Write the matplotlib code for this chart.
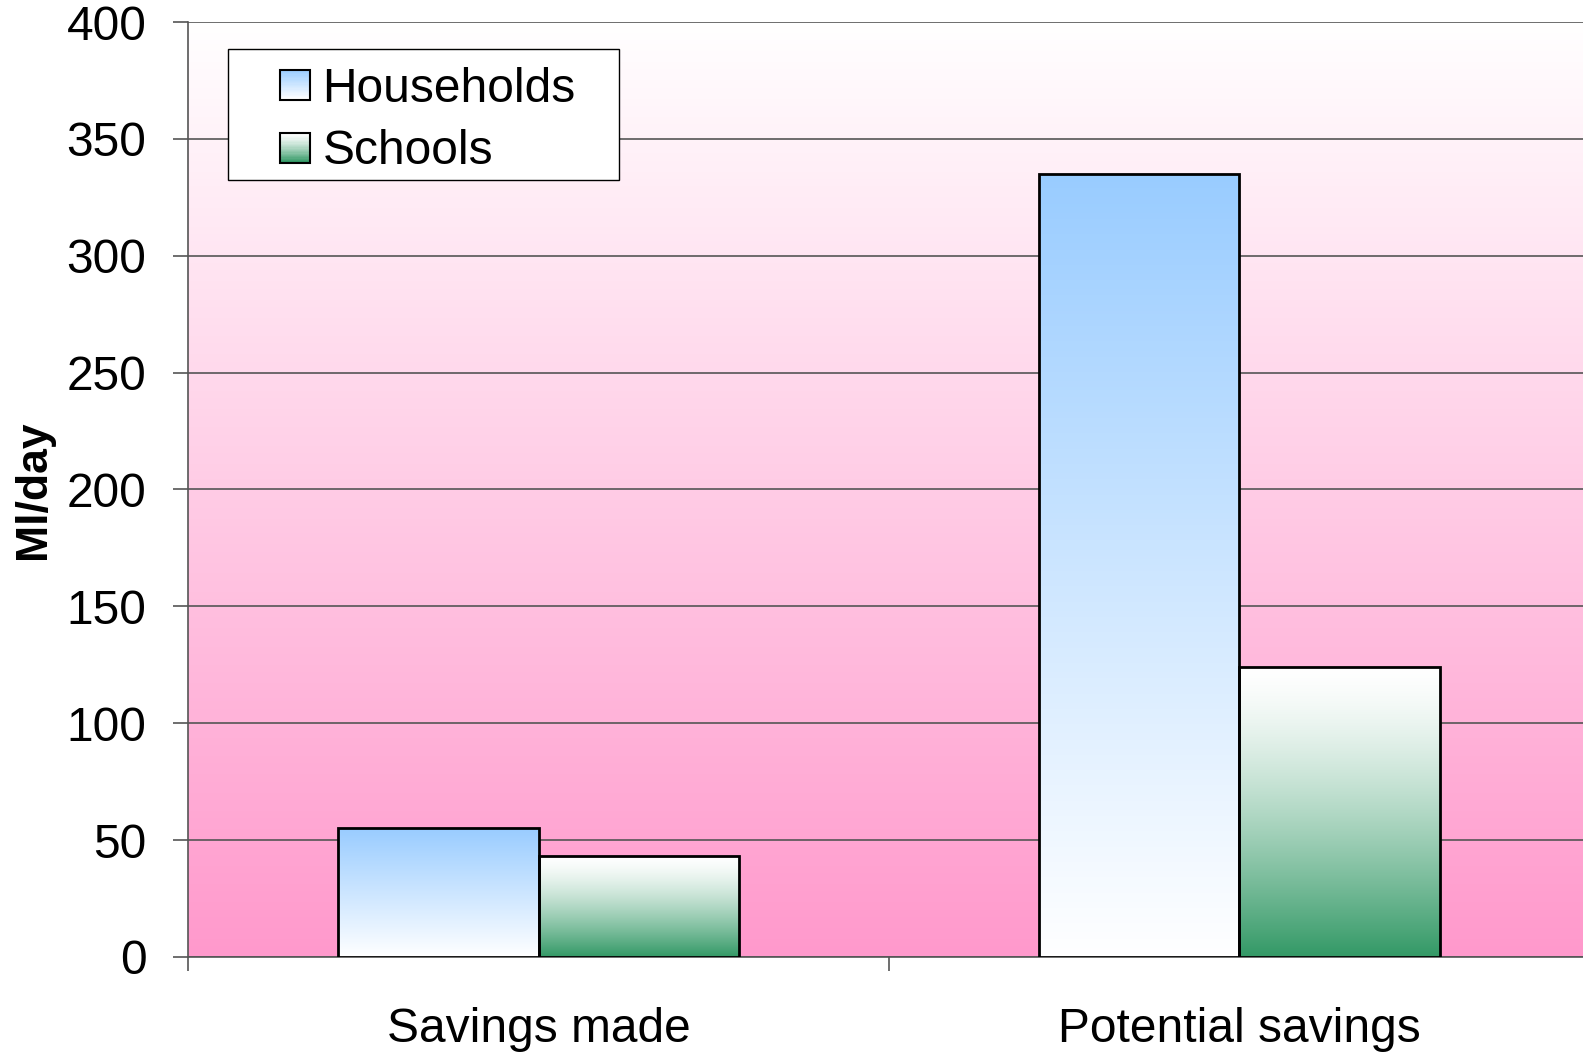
import numpy as np
import matplotlib.pyplot as plt
from matplotlib.colors import to_rgb
from matplotlib.patches import Rectangle
from matplotlib.legend_handler import HandlerBase

plt.rcParams['font.family'] = ['Liberation Sans', 'DejaVu Sans']

# data
categories = ["Savings made", "Potential savings"]
series_names = ["Households", "Schools"]
households = [55, 335]
schools = [43, 124]
y_ticks = [0, 50, 100, 150, 200, 250, 300, 350, 400]

# gradient colours (top, bottom)
grad_colors = {
    "Households": ("#99CCFF", "#FFFFFF"),
    "Schools": ("#FFFFFF", "#339966"),
}
bg_top, bg_bottom = "#FFFFFF", "#FF99CC"


def vgrad(top, bottom, n=256, gamma=1.0):
    t = np.linspace(0, 1, n) ** gamma
    c0, c1 = np.array(to_rgb(top)), np.array(to_rgb(bottom))
    g = c0[None, :] * (1 - t[:, None]) + c1[None, :] * t[:, None]
    return g[:, None, :]


class GradHandler(HandlerBase):
    # small square with a vertical gradient, pushed to the right of the handle box
    def __init__(self, top, bottom, gamma=1.0):
        super().__init__()
        self.top, self.bottom, self.gamma = top, bottom, gamma

    def create_artists(self, legend, orig_handle, xdescent, ydescent,
                       width, height, fontsize, trans):
        size = height * 0.9
        x0 = -xdescent + width - size
        y0 = -ydescent + (height - size) / 2
        n = 24
        cols = vgrad(self.top, self.bottom, n, self.gamma)[:, 0, :]
        arts = []
        for i in range(n):
            r = Rectangle((x0, y0 + size * (n - 1 - i) / n), size, size / n + 0.3,
                          facecolor=cols[i], edgecolor='none', transform=trans)
            arts.append(r)
        arts.append(Rectangle((x0, y0), size, size, facecolor='none',
                              edgecolor='black', lw=1.5, transform=trans))
        return arts


fig = plt.figure(figsize=(15.83, 10.53), dpi=100)
ax = fig.add_axes([0.1188, 0.0912, 1.0044 - 0.1188, 0.9791 - 0.0912])

# background gradient
ax.imshow(vgrad(bg_top, bg_bottom), extent=[0, 1, 0, 1], transform=ax.transAxes,
          aspect='auto', zorder=0)

x = np.arange(len(categories)) + 0.5
w = 1 / 3.5
gammas = {"Households": 1.0, "Schools": 1.4}
for off, name, vals in [(-w / 2, "Households", households), (w / 2, "Schools", schools)]:
    bars = ax.bar(x + off, vals, width=w, facecolor='none', edgecolor='black',
                  linewidth=2, zorder=4)
    top, bottom = grad_colors[name]
    for b in bars:
        bx, by = b.get_x(), b.get_y()
        im = ax.imshow(vgrad(top, bottom, gamma=gammas[name]),
                       extent=[bx, bx + b.get_width(), by, by + b.get_height()],
                       aspect='auto', zorder=3)
        im.set_clip_path(b)

ax.set_xlim(0, 2)
ax.set_ylim(0, 400)
ax.set_aspect('auto')

ax.set_yticks(y_ticks)
ax.set_yticklabels([str(v) for v in y_ticks])
ax.yaxis.grid(True, color='#555555', lw=1.2, zorder=1)
ax.set_axisbelow(True)

ax.set_xticks([0, 1, 2])
ax.set_xticklabels(["", "", ""])
ax.set_xticks(x, minor=True)
ax.set_xticklabels(categories, minor=True)
ax.tick_params(axis='x', which='major', length=10, width=1.2, color='#555555')
ax.tick_params(axis='x', which='minor', length=0, pad=36, labelsize=34.5)
ax.tick_params(axis='y', length=11, width=1.2, color='#555555', pad=19, labelsize=34.5)

for s in ['top', 'right']:
    ax.spines[s].set_visible(False)
for s in ['left', 'bottom']:
    ax.spines[s].set_color('#555555')
    ax.spines[s].set_linewidth(1.2)

ax.set_ylabel("Ml/day", fontsize=32, fontweight='bold', labelpad=9)

# legend box drawn separately so its padding can match the original
ax.add_patch(Rectangle((0.0285, 0.831), 0.2789, 0.1396, transform=ax.transAxes,
                       facecolor='white', edgecolor='black', lw=1.0,
                       zorder=5, clip_on=False))
h1 = Rectangle((0, 0), 1, 1)
h2 = Rectangle((0, 0), 1, 1)
leg = ax.legend([h1, h2], series_names, loc='upper left',
                bbox_to_anchor=(0.0285, 0.9706), fontsize=34.5, frameon=False,
                borderpad=0.36, handlelength=1.35, handletextpad=0.26,
                labelspacing=0.37, borderaxespad=0,
                handler_map={h1: GradHandler(*grad_colors["Households"]),
                             h2: GradHandler(*grad_colors["Schools"], gamma=1.4)})
leg.set_zorder(6)

fig.savefig("out.png", dpi=100)
